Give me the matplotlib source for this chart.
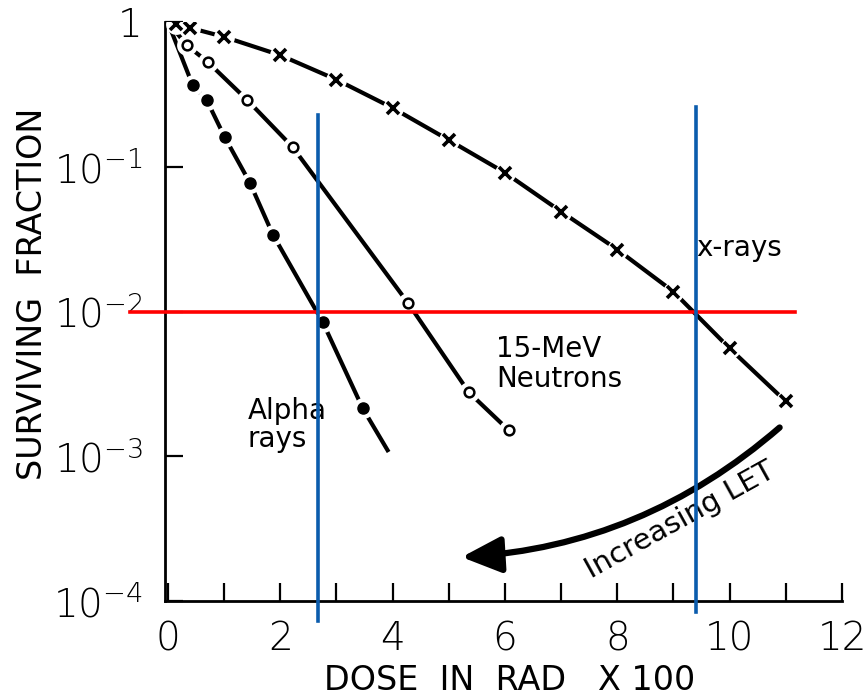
import matplotlib
matplotlib.use("Agg")
import matplotlib.pyplot as plt
from matplotlib.patches import FancyArrowPatch

plt.rcParams['font.family'] = ['DejaVu Sans']

# ---- data ----
xray_dose = [0.15, 0.4, 1, 2, 3, 4, 5, 6, 7, 8, 9, 10, 11]
xray_sf = [0.97, 0.91, 0.79, 0.59, 0.40, 0.255, 0.153, 0.091, 0.049, 0.0268, 0.0137, 0.00556, 0.00239]

neut_dose = [0.34, 0.71, 1.41, 2.22, 4.27, 5.36, 6.07]
neut_sf = [0.69, 0.53, 0.29, 0.137, 0.01153, 0.00276, 0.00151]

alpha_dose = [0.44, 0.69, 1.01, 1.46, 1.87, 2.76, 3.47]
alpha_sf = [0.368, 0.29, 0.161, 0.0776, 0.034, 0.0084, 0.00214]
alpha_end = (3.93, 0.00107)

origin = (0.0, 1.0)

xticks_major = [0, 2, 4, 6, 8, 10, 12]
xticks_minor = [1, 3, 5, 7, 9, 11]
yticks = [1e-4, 1e-3, 1e-2, 1e-1, 1]
ytick_labels = [r'$\mathregular{10^{-4}}$', r'$\mathregular{10^{-3}}$',
                r'$\mathregular{10^{-2}}$', r'$\mathregular{10^{-1}}$', '1']

ref_level = 0.01
ref_doses = [2.67, 9.41]

# ---- figure ----
fig = plt.figure(figsize=(8.65, 6.95), dpi=100)
ax = fig.add_axes([165/865, 1 - 601/695, 677/865, 579/695])
ax.set_yscale('log')
ax.set_xlim(-0.05, 12)
ax.set_ylim(1e-4, 1)

for s in ['top', 'right']:
    ax.spines[s].set_visible(False)
for s in ['left', 'bottom']:
    ax.spines[s].set_linewidth(2)

ax.set_xticks(xticks_major)
ax.set_xticks(xticks_minor, minor=True)
ax.set_xticklabels([str(v) for v in xticks_major])
ax.set_yticks(yticks)
ax.set_yticklabels(ytick_labels)
ax.yaxis.set_minor_locator(matplotlib.ticker.NullLocator())
ax.tick_params(axis='x', which='both', direction='in', length=13, width=1.6, pad=14,
               labelsize=28)
ax.tick_params(axis='y', which='both', direction='in', length=13, width=1.6, pad=16,
               labelsize=28)
for lab in ax.get_xticklabels() + ax.get_yticklabels():
    lab.set_fontweight('light')

lw = 3.0
gap_ms = 15

def curve(dx, dy, marker, mfc, ms, mew, end=None):
    xs = [origin[0]] + list(dx)
    ys = [origin[1]] + list(dy)
    if end is not None:
        xs.append(end[0]); ys.append(end[1])
    ax.plot(xs, ys, color='black', lw=lw, solid_capstyle='butt', zorder=2)
    ax.plot(dx, dy, linestyle='none', marker='o', ms=gap_ms, mfc='white', mec='none', zorder=3)
    ax.plot(dx, dy, linestyle='none', marker=marker, ms=ms, mfc=mfc, mec='black', mew=mew, zorder=4)

curve(xray_dose, xray_sf, 'x', 'black', 9, 2.6)
curve(neut_dose, neut_sf, 'o', 'white', 7, 1.8)
curve(alpha_dose, alpha_sf, 'o', 'black', 8, 1.0, end=alpha_end)

# labels
tkw = dict(fontsize=20, color='black', va='center', ha='left')
ax.text(9.41, 0.0276, 'x-rays', **tkw)
ax.text(5.84, 0.00547, '15-MeV', **tkw)
ax.text(5.84, 0.0034, 'Neutrons', **tkw)
ax.text(1.42, 0.00204, 'Alpha', **tkw)
ax.text(1.42, 0.00131, 'rays', **tkw)
ax.text(9.12, 3.6e-4, 'Increasing LET', fontsize=21, rotation=29,
        ha='center', va='center')

arrow = FancyArrowPatch((10.89, 1.58e-3), (5.23, 2.01e-4),
                        connectionstyle='arc3,rad=-0.17',
                        arrowstyle='-|>,head_length=1.2,head_width=0.55',
                        mutation_scale=20, lw=4.5, color='black', capstyle='round',
                        shrinkA=0, shrinkB=0, zorder=3)
ax.add_patch(arrow)

# reference lines
ax.plot([-0.68, 11.16], [ref_level, ref_level], color='#ff0000', lw=2.6,
        clip_on=False, zorder=6)
ax.plot([ref_doses[0], ref_doses[0]], [0.2285, 7.28e-5], color='#0b5cad', lw=2.6,
        clip_on=False, zorder=6)
ax.plot([ref_doses[1], ref_doses[1]], [0.259, 8.4e-5], color='#0b5cad', lw=2.6,
        clip_on=False, zorder=6)

fig.text(33/865, 1 - 294/695, 'SURVIVING  FRACTION', rotation=90, fontsize=24,
         ha='center', va='center')
fig.text(510/865, 1 - 680/695, 'DOSE  IN  RAD   X 100', fontsize=24,
         ha='center', va='center')

fig.savefig('out.png', dpi=100)
